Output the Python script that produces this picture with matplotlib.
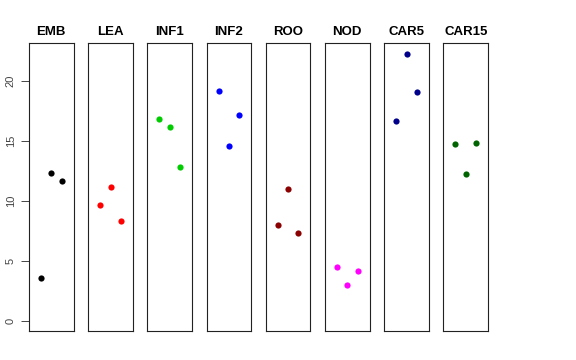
import matplotlib
matplotlib.use("Agg")
import matplotlib.pyplot as plt

# ---------------------------------------------------------------------------
# Data
# ---------------------------------------------------------------------------
GROUPS = ["EMB", "LEA", "INF1", "INF2", "ROO", "NOD", "CAR5", "CAR15"]
COLORS = ["black", "red", "#00CD00", "blue", "#8B0000", "magenta", "#00008B", "#006400"]
REPLICATE = [1, 2, 3]

EMB = [3.56, 12.33, 11.60]
LEA = [9.64, 11.10, 8.30]
INF1 = [16.80, 16.10, 12.78]
INF2 = [19.14, 14.53, 17.17]
ROO = [8.00, 11.00, 7.31]
NOD = [4.50, 3.00, 4.14]
CAR5 = [16.64, 22.25, 19.06]
CAR15 = [14.72, 12.22, 14.80]

VALUES = [EMB, LEA, INF1, INF2, ROO, NOD, CAR5, CAR15]
Y_TICKS = [0, 5, 10, 15, 20]


def main() -> None:
    plt.rcParams.update(
        {
            "font.family": ["Liberation Sans", "DejaVu Sans"],
            "axes.linewidth": 0.8,
            "axes.edgecolor": "#222222",
        }
    )

    W, H = 576, 360
    fig = plt.figure(figsize=(W / 100, H / 100), dpi=100)

    left0, step, width = 29, 59.2, 44.6
    top_px, bot_px = 43.3, 331.0

    for i, (name, vals, col) in enumerate(zip(GROUPS, VALUES, COLORS)):
        x0 = left0 + i * step
        ax = fig.add_axes(
            [x0 / W, 1 - bot_px / H, width / W, (bot_px - top_px) / H]
        )
        ax.scatter(REPLICATE, vals, s=20, color=col, linewidths=0, zorder=3)
        ax.set_xlim(-0.16, 4.16)
        ax.set_ylim(-0.86, 23.1)
        ax.set_xticks([])
        ax.set_title(name, fontsize=9.5, fontweight="bold", pad=6)
        if i == 0:
            ax.set_yticks(Y_TICKS)
            ax.set_yticklabels([str(t) for t in Y_TICKS], rotation=90, va="center")
            ax.tick_params(axis="y", labelsize=8, length=5.5, width=0.7, pad=4,
                           colors="#444444")
        else:
            ax.set_yticks([])

    fig.savefig("out.png", dpi=100)
    plt.close(fig)


if __name__ == "__main__":
    main()
